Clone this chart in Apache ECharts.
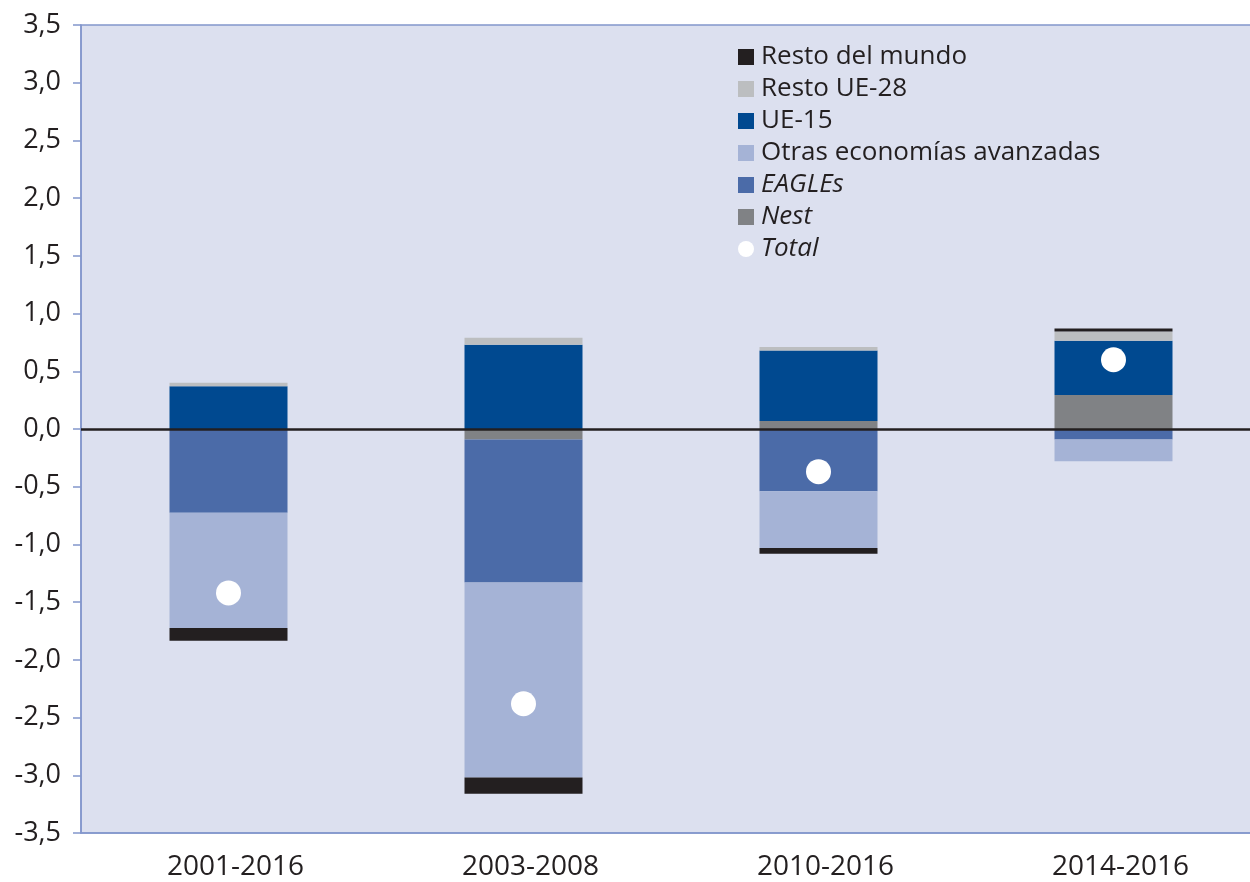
<!DOCTYPE html>
<html>
<head>
<meta charset="utf-8">
<script src="https://cdn.jsdelivr.net/npm/echarts@6/dist/echarts.min.js"></script>
<style>
  html, body { margin: 0; padding: 0; background: #ffffff; }
  #main { width: 1250px; height: 882px; }
</style>
</head>
<body>
<div id="main"></div>
<script>
// periodos
const categories = ['2001-2016', '2003-2008', '2010-2016', '2014-2016'];

// contribuciones por zona (puntos porcentuales)
const restoMundo = [-0.11, -0.14, -0.05, 0.025];
const restoUE28 = [0.03, 0.06, 0.03, 0.08];
const ue15 = [0.37, 0.73, 0.61, 0.47];
const otrasAvanzadas = [-1.0, -1.69, -0.49, -0.19];
const eagles = [-0.725, -1.24, -0.54, -0.09];
const nest = [0, -0.09, 0.07, 0.295];
const total = [-1.42, -2.38, -0.37, 0.6];

const yTicks = { min: -3.5, max: 3.5, interval: 0.5 };

const font = '"Open Sans", "Noto Sans", sans-serif';
const textColor = '#231f20';
const axisBlue = '#8396cc';

const chart = echarts.init(document.getElementById('main'), null, { renderer: 'canvas' });

function barSeries(name, data, color) {
  return {
    name: name,
    type: 'bar',
    stack: 'zonas',
    data: data,
    barWidth: '40%',
    itemStyle: { color: color },
    emphasis: { disabled: true }
  };
}

const series = [
  // orden de apilado: Nest junto al cero, luego el resto
  barSeries('Nest', nest, '#808285'),
  barSeries('EAGLEs', eagles, '#4b6ba8'),
  barSeries('Otras economías avanzadas', otrasAvanzadas, '#a5b3d6'),
  barSeries('UE-15', ue15, '#004990'),
  barSeries('Resto UE-28', restoUE28, '#bcbec0'),
  barSeries('Resto del mundo', restoMundo, '#231f20'),
  {
    name: 'Total',
    type: 'scatter',
    data: total,
    symbol: 'circle',
    symbolSize: 25,
    z: 5,
    itemStyle: { color: '#ffffff', opacity: 1 },
    emphasis: { disabled: true },
    markLine: {
      silent: true,
      symbol: 'none',
      label: { show: false },
      lineStyle: { color: '#231f20', width: 2.5, type: 'solid' },
      data: [{ yAxis: 0 }]
    }
  }
];

const italic = ['EAGLEs', 'Nest', 'Total'];

const option = {
  backgroundColor: '#ffffff',
  animation: false,
  grid: {
    left: 81,
    width: 1180,
    top: 25,
    bottom: 49,
    outerBoundsMode: 'none',
    show: true,
    backgroundColor: '#dce0ef',
    borderColor: axisBlue,
    borderWidth: 1.5
  },
  legend: {
    orient: 'vertical',
    left: 733,
    top: 39,
    itemWidth: 16,
    itemHeight: 16,
    itemGap: 6,
    data: [
      { name: 'Resto del mundo', icon: 'rect' },
      { name: 'Resto UE-28', icon: 'rect' },
      { name: 'UE-15', icon: 'rect' },
      { name: 'Otras economías avanzadas', icon: 'rect' },
      { name: 'EAGLEs', icon: 'rect' },
      { name: 'Nest', icon: 'rect' },
      { name: 'Total', icon: 'circle' }
    ],
    formatter: function (name) {
      return italic.indexOf(name) >= 0 ? '{i|' + name + '}' : name;
    },
    textStyle: {
      fontFamily: font,
      fontSize: 26,
      lineHeight: 24,
      color: textColor,
      padding: [0, 0, 0, 2],
      rich: {
        i: { fontFamily: font, fontSize: 26, lineHeight: 24, fontStyle: 'italic', color: textColor }
      }
    },
    selectedMode: false
  },
  xAxis: {
    type: 'category',
    data: categories,
    axisLine: { onZero: false, lineStyle: { color: axisBlue, width: 1.5 } },
    axisTick: { show: false },
    axisLabel: { fontFamily: font, fontSize: 28, color: textColor, margin: 20, padding: [0, 0, 0, 14] }
  },
  yAxis: {
    type: 'value',
    min: yTicks.min,
    max: yTicks.max,
    interval: yTicks.interval,
    splitLine: { show: false },
    axisLine: { show: true, lineStyle: { color: axisBlue, width: 1.5 } },
    axisTick: { show: true, length: 8, lineStyle: { color: axisBlue, width: 1.5 } },
    axisLabel: {
      fontFamily: font,
      fontSize: 27,
      color: textColor,
      margin: 20,
      formatter: function (v) { return v.toFixed(1).replace('.', ','); }
    }
  },
  series: series
};

chart.setOption(option);
</script>
</body>
</html>
